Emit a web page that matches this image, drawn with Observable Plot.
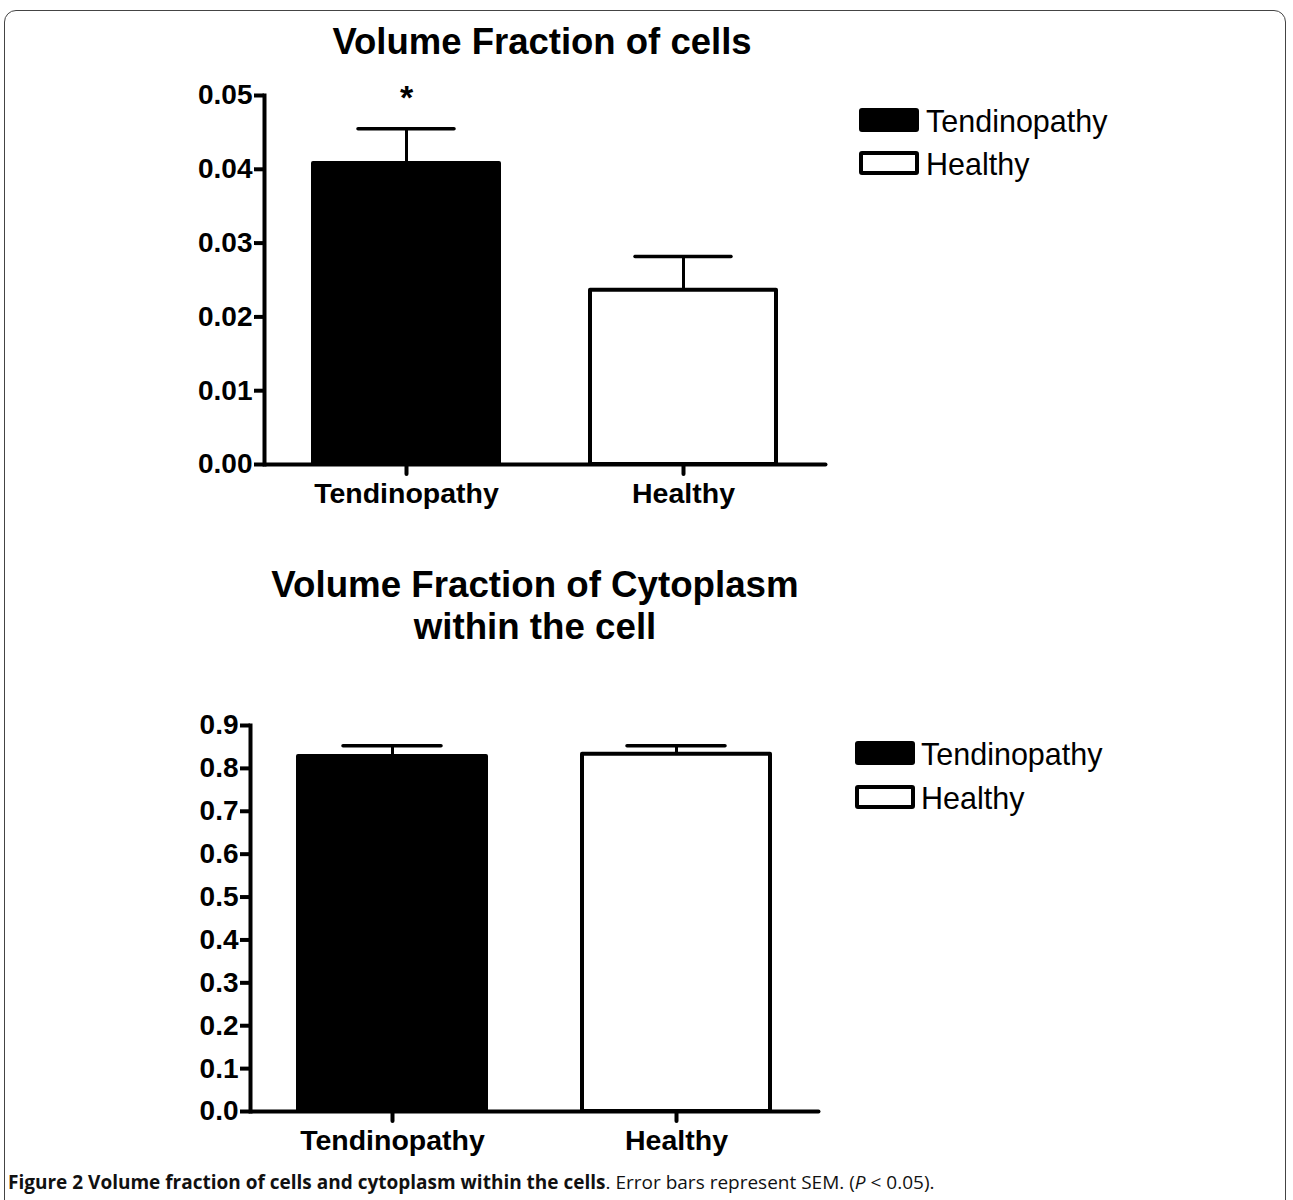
<!DOCTYPE html>
<html>
<head>
<meta charset="utf-8">
<script src="https://cdn.jsdelivr.net/npm/d3@7"></script>
<script src="https://cdn.jsdelivr.net/npm/@observablehq/plot@0.6"></script>
<style>
  html, body { margin: 0; padding: 0; background: #fff; }
  #page { position: relative; width: 1293px; height: 1200px; overflow: hidden; font-family: "Liberation Sans", Arial, sans-serif; color: #000; }
  #border { position: absolute; left: 4px; top: 10px; width: 1282px; height: 1220px; border: 1.5px solid #444; border-radius: 12px; box-sizing: border-box; }
  .chart { position: absolute; left: 0; }
  .title { position: absolute; text-align: center; font-weight: bold; font-size: 36.7px; line-height: 42px; white-space: nowrap; }
  .lg-swatch { position: absolute; width: 60px; height: 24px; border-radius: 3px; box-sizing: border-box; border: 4px solid #000; }
  .lg-label { position: absolute; font-size: 30.5px; line-height: 30px; white-space: nowrap; }
  #caption { position: absolute; left: 8px; top: 1170px; font-family: "Open Sans", sans-serif; font-size: 19px; line-height: 24px; white-space: nowrap; color: #111; }
</style>
</head>
<body>
<div id="page">
  <div id="border"></div>
</div>
<script>
// ---- data ----
const categories = ["Tendinopathy", "Healthy"];
const barFills = ["black", "white"];
const cellsMean = [0.0408, 0.0236];
const cellsSEM = [0.0047, 0.0046];
const cellsMarks = ["*", ""];
const cellsTicks = [0, 0.01, 0.02, 0.03, 0.04, 0.05];
const cytoMean = [0.828, 0.833];
const cytoSEM = [0.025, 0.020];
const cytoMarks = ["", ""];
const cytoTicks = [0, 0.1, 0.2, 0.3, 0.4, 0.5, 0.6, 0.7, 0.8, 0.9];
const title1 = "Volume Fraction of cells";
const title2 = ["Volume Fraction of Cytoplasm", "within the cell"];

const page = document.getElementById("page");

function rowsOf(means, sems, marks) {
  return categories.map((c, i) => ({cat: c, mean: means[i], upper: means[i] + sems[i], fill: barFills[i], sig: marks[i]}));
}

function chart(rows, opts) {
  return Plot.plot({
    width: 1293,
    height: opts.height,
    marginTop: opts.marginTop,
    marginBottom: opts.marginBottom,
    marginLeft: opts.marginLeft,
    marginRight: opts.marginRight,
    x: {domain: categories, paddingInner: opts.pi, paddingOuter: opts.po, label: null},
    y: {domain: opts.yDomain, label: null},
    color: {type: "identity"},
    style: {fontFamily: "'Liberation Sans', Arial, sans-serif", background: "transparent", color: "black", overflow: "visible"},
    marks: [
      Plot.ruleX(rows, {x: "cat", y1: "mean", y2: "upper", strokeWidth: 3}),
      Plot.tickY(rows, {x: "cat", y: "upper", strokeWidth: 3.5, strokeLinecap: "round", insetLeft: opts.capInset, insetRight: opts.capInset}),
      Plot.barY(rows, {x: "cat", y: "mean", fill: "fill", stroke: "black", strokeWidth: 4, strokeLinejoin: "round"}),
      Plot.text(rows, {x: "cat", y: "upper", text: "sig", dy: -31, fontSize: 34, fontWeight: "bold"}),
      Plot.axisY({ticks: opts.ticks, tickFormat: d3.format(opts.fmt), tickSize: 10, tickPadding: 2, fontSize: 28, fontWeight: "bold", strokeWidth: 4, label: null}),
      Plot.axisX({tickSize: 10, tickPadding: 8, fontSize: 28.5, fontWeight: "bold", strokeWidth: 4, strokeLinecap: "round", label: null}),
      Plot.frame({anchor: "left", strokeWidth: 4, strokeLinecap: "square"}),
      Plot.frame({anchor: "bottom", strokeWidth: 4, strokeLinecap: "round"})
    ]
  });
}

function place(el, top) {
  el.classList.add("chart");
  el.style.top = top + "px";
  page.appendChild(el);
}

function addLegend(left, tops, textLeft) {
  categories.forEach((c, i) => {
    const sw = document.createElement("div");
    sw.className = "lg-swatch";
    sw.style.left = left + "px";
    sw.style.top = tops[i] + "px";
    sw.style.background = barFills[i];
    page.appendChild(sw);
    const lb = document.createElement("div");
    lb.className = "lg-label";
    lb.style.left = textLeft + "px";
    lb.style.top = (tops[i] - 2) + "px";
    lb.textContent = c;
    page.appendChild(lb);
  });
}

// ---- top chart ----
const c1 = chart(rowsOf(cellsMean, cellsSEM, cellsMarks), {
  height: 524, marginTop: 95, marginBottom: 60, marginLeft: 264, marginRight: 468,
  pi: 0.329, po: 0.177, yDomain: [0, 0.05], ticks: cellsTicks, fmt: ".2f", capInset: 45
});
place(c1, 0);

const t1 = document.createElement("div");
t1.className = "title";
t1.style.left = "242px"; t1.style.width = "600px"; t1.style.top = "21px";
t1.style.fontSize = "36.5px";
t1.textContent = title1;
page.appendChild(t1);

addLegend(859, [108, 151], 926);

// ---- bottom chart ----
const c2 = chart(rowsOf(cytoMean, cytoSEM, cytoMarks), {
  height: 531, marginTop: 85, marginBottom: 60, marginLeft: 250, marginRight: 475,
  pi: 0.338, po: 0.169, yDomain: [0, 0.9], ticks: cytoTicks, fmt: ".1f", capInset: 45
});
place(c2, 640);

const t2 = document.createElement("div");
t2.className = "title";
t2.style.left = "235px"; t2.style.width = "600px"; t2.style.top = "564px";
t2.innerHTML = title2.join("<br>");
page.appendChild(t2);

addLegend(855, [741, 785], 921);

// ---- caption ----
const cap = document.createElement("div");
cap.id = "caption";
cap.innerHTML = '<b>Figure 2 Volume fraction of cells and cytoplasm within the cells</b>. Error bars represent SEM. (<i>P</i> &lt; 0.05).';
page.appendChild(cap);
</script>
</body>
</html>
